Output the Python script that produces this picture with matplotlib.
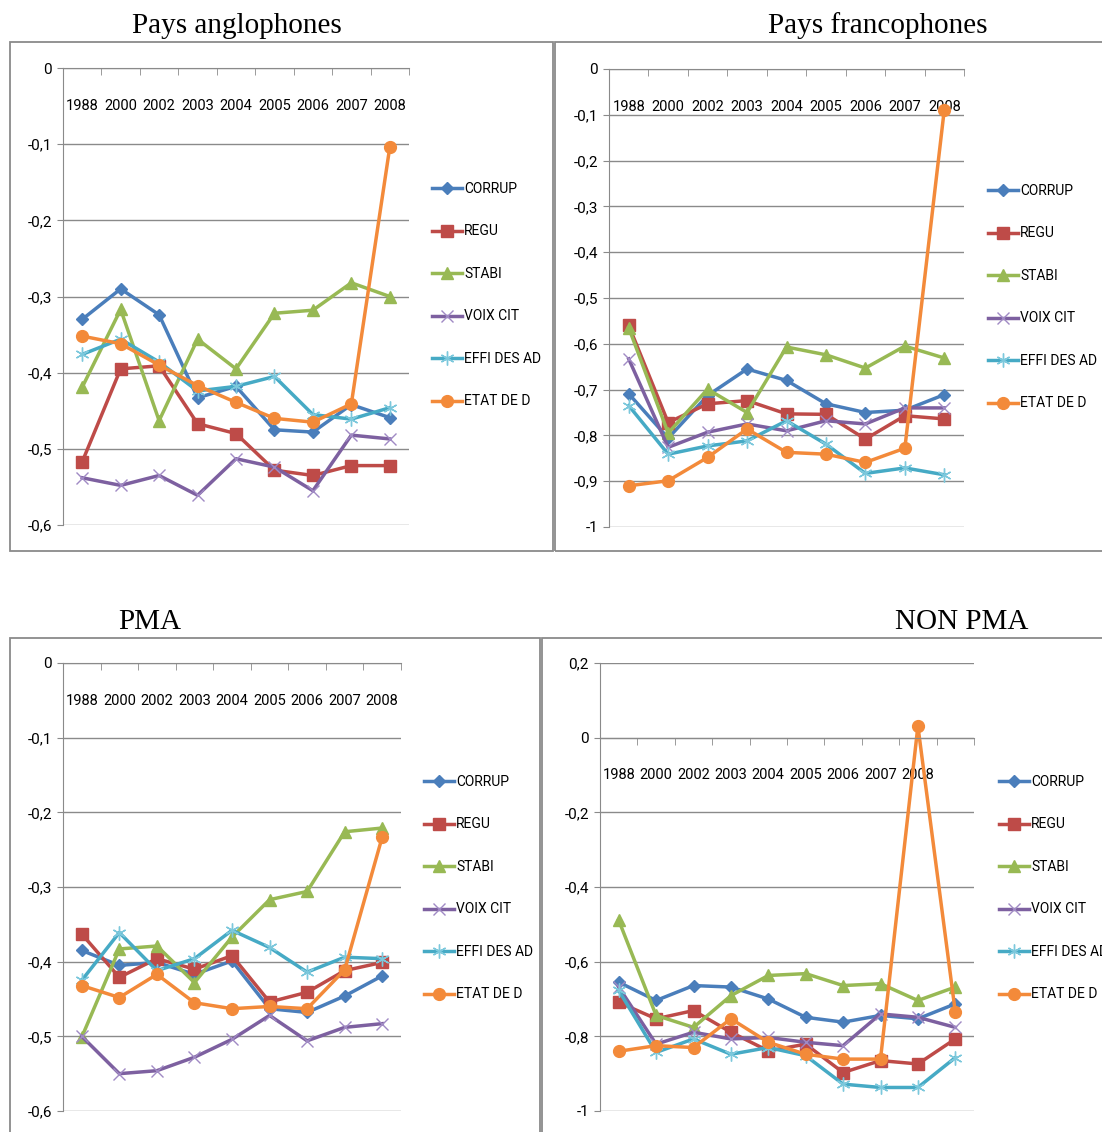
import matplotlib
matplotlib.use('Agg')
import matplotlib.pyplot as plt
from matplotlib.patches import Rectangle
from matplotlib.ticker import FuncFormatter, FixedLocator

plt.rcParams['font.family'] = ['Roboto', 'DejaVu Sans']

# data
annees = ['1988', '2000', '2002', '2003', '2004', '2005', '2006', '2007', '2008']
annees_non_pma = annees + ['']
series = ['CORRUP', 'REGU', 'STABI', 'VOIX CIT', 'EFFI DES AD', 'ETAT DE D']

anglo = {
    'CORRUP':      [-0.330, -0.290, -0.324, -0.433, -0.418, -0.475, -0.478, -0.442, -0.459],
    'REGU':        [-0.517, -0.395, -0.391, -0.467, -0.480, -0.528, -0.535, -0.522, -0.522],
    'STABI':       [-0.419, -0.317, -0.463, -0.356, -0.395, -0.322, -0.318, -0.282, -0.300],
    'VOIX CIT':    [-0.538, -0.548, -0.535, -0.561, -0.513, -0.524, -0.555, -0.482, -0.487],
    'EFFI DES AD': [-0.376, -0.356, -0.386, -0.424, -0.418, -0.405, -0.455, -0.461, -0.446],
    'ETAT DE D':   [-0.352, -0.362, -0.390, -0.417, -0.439, -0.460, -0.465, -0.441, -0.104],
}
franco = {
    'CORRUP':      [-0.709, -0.806, -0.713, -0.655, -0.680, -0.731, -0.750, -0.745, -0.711],
    'REGU':        [-0.560, -0.772, -0.731, -0.724, -0.753, -0.754, -0.808, -0.757, -0.764],
    'STABI':       [-0.565, -0.795, -0.699, -0.750, -0.607, -0.624, -0.653, -0.605, -0.631],
    'VOIX CIT':    [-0.633, -0.826, -0.793, -0.775, -0.790, -0.768, -0.775, -0.740, -0.740],
    'EFFI DES AD': [-0.735, -0.841, -0.823, -0.812, -0.768, -0.819, -0.883, -0.871, -0.886],
    'ETAT DE D':   [-0.910, -0.899, -0.848, -0.786, -0.837, -0.841, -0.859, -0.828, -0.089],
}
pma = {
    'CORRUP':      [-0.385, -0.405, -0.401, -0.417, -0.399, -0.463, -0.468, -0.446, -0.419],
    'REGU':        [-0.363, -0.421, -0.396, -0.410, -0.392, -0.454, -0.441, -0.412, -0.401],
    'STABI':       [-0.501, -0.383, -0.379, -0.428, -0.367, -0.317, -0.306, -0.226, -0.221],
    'VOIX CIT':    [-0.500, -0.550, -0.546, -0.528, -0.504, -0.472, -0.506, -0.488, -0.483],
    'EFFI DES AD': [-0.425, -0.361, -0.412, -0.396, -0.358, -0.381, -0.414, -0.394, -0.396],
    'ETAT DE D':   [-0.432, -0.448, -0.417, -0.455, -0.463, -0.460, -0.463, -0.411, -0.233],
}
non_pma = {
    'CORRUP':      [-0.655, -0.704, -0.664, -0.668, -0.700, -0.749, -0.762, -0.744, -0.753, -0.713],
    'REGU':        [-0.709, -0.753, -0.731, -0.789, -0.839, -0.821, -0.897, -0.865, -0.874, -0.807],
    'STABI':       [-0.489, -0.744, -0.776, -0.691, -0.637, -0.632, -0.664, -0.659, -0.704, -0.668],
    'VOIX CIT':    [-0.668, -0.821, -0.789, -0.807, -0.803, -0.816, -0.825, -0.740, -0.749, -0.776],
    'EFFI DES AD': [-0.677, -0.843, -0.807, -0.848, -0.830, -0.852, -0.928, -0.937, -0.937, -0.857],
    'ETAT DE D':   [-0.840, -0.825, -0.830, -0.753, -0.816, -0.848, -0.861, -0.861, 0.031, -0.735],
}

couleurs = {'CORRUP': '#4A7EBB', 'REGU': '#BE4B48', 'STABI': '#98B954',
            'VOIX CIT': '#7D60A0', 'EFFI DES AD': '#46AAC5', 'ETAT DE D': '#F38A3A'}
coul_marq = {'VOIX CIT': '#A08AC4', 'EFFI DES AD': '#7CC8DC'}
marqueurs = {'CORRUP': ('D', 6.5, 1), 'REGU': ('s', 8, 1), 'STABI': ('^', 8.5, 1),
             'VOIX CIT': ('x', 8, 1.0), 'EFFI DES AD': ((6, 2, 0), 10, 1.0),
             'ETAT DE D': ('o', 8.5, 1)}

W, H = 1102, 1132
fig = plt.figure(figsize=(W / 100, H / 100), dpi=100)
gris = '#8A8A8A'


def fx(px):
    return px / W


def fy(py):
    return 1 - py / H


def fmt(v, pos):
    if abs(v - round(v)) < 1e-9:
        return str(int(round(v)))
    return ('%.1f' % v).replace('.', ',')


def panneau(box, data, cats, ylim, ystep, titre, tpos, leg):
    l, r, t, b = box
    ax = fig.add_axes([fx(l), fy(b), fx(r) - fx(l), fy(t) - fy(b)])
    n = len(cats)
    x = list(range(n))
    for s in series:
        m, ms, mew = marqueurs[s]
        mc = coul_marq.get(s, couleurs[s])
        ax.plot(x[:len(data[s])], data[s], color=couleurs[s], lw=2.5, marker=m,
                ms=ms, mfc=mc, mec=mc, mew=mew, label=s, clip_on=False)
    ax.set_xlim(-0.5, n - 0.5)
    ax.set_ylim(*ylim)
    yt = [round(ylim[0] + i * ystep, 2) for i in range(int(round((ylim[1] - ylim[0]) / ystep)) + 1)]
    ax.yaxis.set_major_locator(FixedLocator(yt))
    ax.yaxis.set_major_formatter(FuncFormatter(fmt))
    ax.grid(axis='y', color=gris, lw=1.0)
    ax.set_axisbelow(True)
    for sp in ['top', 'right']:
        ax.spines[sp].set_visible(False)
    ax.spines['bottom'].set_position(('data', 0))
    ax.spines['bottom'].set_color(gris)
    ax.spines['left'].set_color(gris)
    ax.set_xticks(x)
    ax.set_xticklabels(cats)
    ax.set_xticks([i - 0.5 for i in range(n + 1)], minor=True)
    ax.tick_params(axis='x', which='major', length=0, pad=22, labelsize=10.5)
    ax.tick_params(axis='x', which='minor', length=5, color=gris, direction='out')
    ax.tick_params(axis='y', length=4, color=gris, pad=4, labelsize=11)
    fig.text(fx(tpos[0]), fy(tpos[1]), titre, family='Liberation Serif', fontsize=21,
             ha='center', va='center')
    ax.legend(loc='upper left', bbox_to_anchor=(fx(leg[0]), fy(leg[1])),
              bbox_transform=fig.transFigure, frameon=False, fontsize=10,
              handlelength=2.15, handletextpad=0.15, labelspacing=2.05,
              borderpad=0, borderaxespad=0)
    return ax


panneau((63, 409, 68, 525), anglo, annees, (-0.6, 0), 0.1,
        'Pays anglophones', (237, 26), (432, 182))
panneau((609, 964, 69, 527), franco, annees, (-1, 0), 0.1,
        'Pays francophones', (878, 26), (988, 184))
panneau((63, 401, 663, 1111), pma, annees, (-0.6, 0), 0.1,
        'PMA', (150, 622), (424, 775))
panneau((600, 974, 663, 1111), non_pma, annees_non_pma, (-1, 0.2), 0.2,
        'NON PMA', (962, 622), (999, 775))

# cadres des graphiques
for (l, r, t, b) in [(10, 553, 42, 551), (555, 1130, 42, 551),
                     (10, 540, 638, 1160), (542, 1130, 638, 1160)]:
    fig.add_artist(Rectangle((fx(l), fy(b)), fx(r) - fx(l), fy(t) - fy(b),
                             transform=fig.transFigure, fill=False,
                             edgecolor=gris, lw=1.3))

fig.savefig('out.png', dpi=100)
